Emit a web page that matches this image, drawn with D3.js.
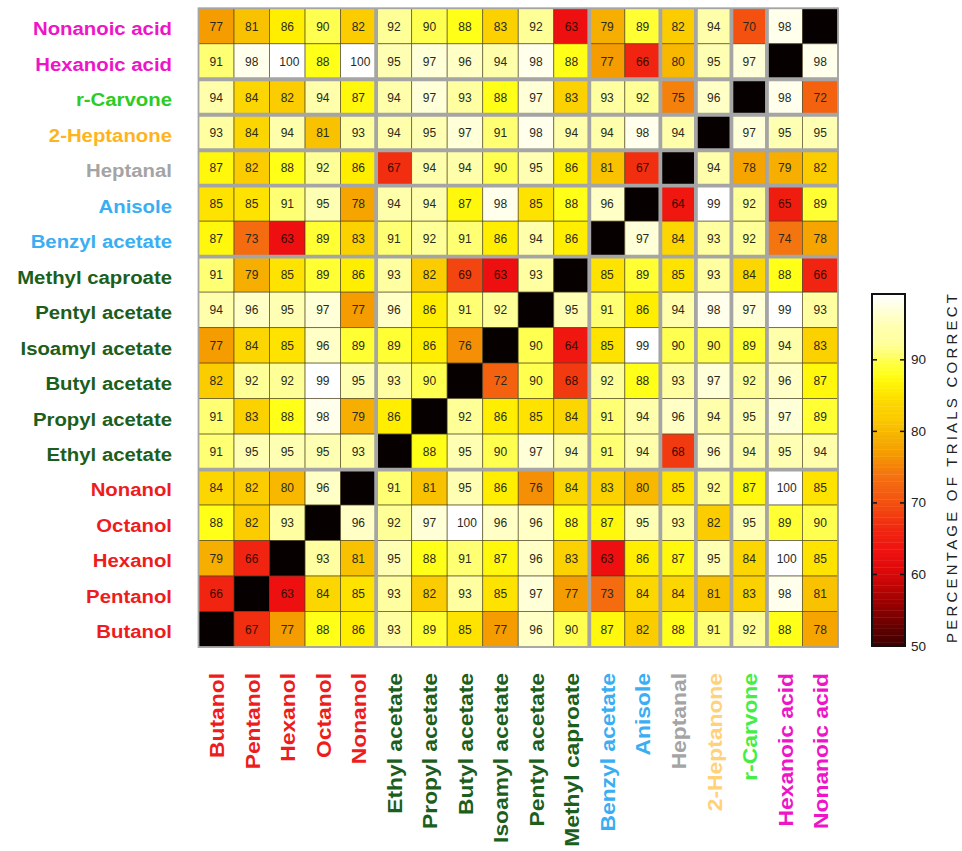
<!DOCTYPE html>
<html>
<head>
<meta charset="utf-8">
<script src="https://cdn.jsdelivr.net/npm/d3@7"></script>
<style>
  html, body { margin: 0; padding: 0; background: #fff; }
  svg { display: block; }
</style>
</head>
<body>
<svg id="chart" width="962" height="851"></svg>
<script>
// ---------------- DATA ----------------
const colLabels = ["Butanol","Pentanol","Hexanol","Octanol","Nonanol",
  "Ethyl acetate","Propyl acetate","Butyl acetate","Isoamyl acetate","Pentyl acetate","Methyl caproate",
  "Benzyl acetate","Anisole","Heptanal","2-Heptanone","r-Carvone","Hexanoic acid","Nonanoic acid"];

const rowLabels = ["Nonanoic acid","Hexanoic acid","r-Carvone","2-Heptanone","Heptanal","Anisole",
  "Benzyl acetate","Methyl caproate","Pentyl acetate","Isoamyl acetate","Butyl acetate","Propyl acetate",
  "Ethyl acetate","Nonanol","Octanol","Hexanol","Pentanol","Butanol"];

// group of each odorant (used for label colours and separators)
const colGroups = ["alc","alc","alc","alc","alc","ace","ace","ace","ace","ace","ace",
  "aro","aro","ald","ket","car","acid","acid"];
const rowGroups = ["acid","acid","car","ket","ald","aro","aro","ace","ace","ace","ace","ace","ace",
  "alc","alc","alc","alc","alc"];

// values, rows top→bottom, columns left→right (null = diagonal)
const values = [
  [77,81,86,90,82, 92,90,88,83,92,63, 79,89, 82, 94, 70, 98,null],
  [91,98,100,88,100, 95,97,96,94,98,88, 77,66, 80, 95, 97, null,98],
  [94,84,82,94,87, 94,97,93,88,97,83, 93,92, 75, 96, null, 98,72],
  [93,84,94,81,93, 94,95,97,91,98,94, 94,98, 94, null, 97, 95,95],
  [87,82,88,92,86, 67,94,94,90,95,86, 81,67, null, 94, 78, 79,82],
  [85,85,91,95,78, 94,94,87,98,85,88, 96,null, 64, 99, 92, 65,89],
  [87,73,63,89,83, 91,92,91,86,94,86, null,97, 84, 93, 92, 74,78],
  [91,79,85,89,86, 93,82,69,63,93,null, 85,89, 85, 93, 84, 88,66],
  [94,96,95,97,77, 96,86,91,92,null,95, 91,86, 94, 98, 97, 99,93],
  [77,84,85,96,89, 89,86,76,null,90,64, 85,99, 90, 90, 89, 94,83],
  [82,92,92,99,95, 93,90,null,72,90,68, 92,88, 93, 97, 92, 96,87],
  [91,83,88,98,79, 86,null,92,86,85,84, 91,94, 96, 94, 95, 97,89],
  [91,95,95,95,93, null,88,95,90,97,94, 91,94, 68, 96, 94, 95,94],
  [84,82,80,96,null, 91,81,95,86,76,84, 83,80, 85, 92, 87, 100,85],
  [88,82,93,null,96, 92,97,100,96,96,88, 87,95, 93, 82, 95, 89,90],
  [79,66,null,93,81, 95,88,91,87,96,83, 63,86, 87, 95, 84, 100,85],
  [66,null,63,84,85, 93,82,93,85,97,77, 73,84, 84, 81, 83, 98,81],
  [null,67,77,88,86, 93,89,85,77,96,90, 87,82, 88, 91, 92, 88,78]
];

const colorbarTicks = [50, 60, 70, 80, 90];
const colorbarTitle = "PERCENTAGE OF TRIALS CORRECT";

// colour map anchor points (value → colour)
const cmapValues = [50, 56, 60, 63, 66, 70, 74, 77, 79, 82, 84, 86, 88, 90, 92, 95, 97, 99];
const cmapColors = ["#3a0000","#9a0000","#d80808","#ee1010","#f02410","#f45010","#f47410","#f59c00",
  "#f6ae00","#fbcc00","#fcd600","#ffee00","#ffff18","#ffff50","#ffff98","#ffffb4","#ffffd8","#ffffff"];

const rowLabelColors = {alc:"#ee1c1c", ace:"#1c5e1c", aro:"#3aaef2", ald:"#a4a4a4", ket:"#ffb41e", car:"#2ccc22", acid:"#ee14c8"};
const colLabelColors = {alc:"#ee1c1c", ace:"#1c5e1c", aro:"#3aaef2", ald:"#a4a4a4", ket:"#ffd27a", car:"#44ee44", acid:"#ee14c8"};

// ---------------- DRAWING ----------------
const svg = d3.select("#chart");
const font = "'Liberation Sans', Arial, Helvetica, sans-serif";

const x = d3.scaleBand().domain(d3.range(colLabels.length)).range([198.5, 838]).padding(0);
const y = d3.scaleBand().domain(d3.range(rowLabels.length)).range([8.3, 647]).padding(0);

const color = d3.scaleLinear().domain(cmapValues).range(cmapColors).clamp(true)
  .interpolate(d3.interpolateRgb);

const cells = [];
values.forEach((row, r) => row.forEach((v, c) => cells.push({r, c, v})));

const g = svg.append("g");

g.selectAll("rect.cell").data(cells).join("rect")
  .attr("class", "cell")
  .attr("x", d => x(d.c))
  .attr("y", d => y(d.r))
  .attr("width", x.bandwidth())
  .attr("height", y.bandwidth())
  .attr("fill", d => d.v == null ? "#070000" : color(d.v))
  .attr("stroke", "#4a4020")
  .attr("stroke-opacity", 0.75)
  .attr("stroke-width", 0.8);

g.selectAll("text.val").data(cells.filter(d => d.v != null)).join("text")
  .attr("class", "val")
  .attr("x", d => x(d.c) + x.bandwidth() / 2 + (d.v >= 100 ? 2 : 0))
  .attr("y", d => y(d.r) + y.bandwidth() / 2 + 0.5)
  .attr("text-anchor", "middle")
  .attr("dominant-baseline", "central")
  .attr("font-family", font)
  .attr("font-size", 12)
  .attr("fill", d => d.v < 70 ? "#3a0a00" : "#2a2a1a")
  .text(d => d.v);

// group separators (gray thick lines)
const colBounds = d3.range(1, colGroups.length).filter(i => colGroups[i] !== colGroups[i - 1]);
const rowBounds = d3.range(1, rowGroups.length).filter(i => rowGroups[i] !== rowGroups[i - 1]);
const sepColor = "#a5a5a5";

g.selectAll("line.vsep").data(colBounds).join("line")
  .attr("x1", d => x(d)).attr("x2", d => x(d))
  .attr("y1", y.range()[0]).attr("y2", y.range()[1])
  .attr("stroke", sepColor).attr("stroke-width", 3.8);

g.selectAll("line.hsep").data(rowBounds).join("line")
  .attr("y1", d => y(d)).attr("y2", d => y(d))
  .attr("x1", x.range()[0]).attr("x2", x.range()[1])
  .attr("stroke", sepColor).attr("stroke-width", 3.8);

g.append("rect")
  .attr("x", x.range()[0]).attr("y", y.range()[0])
  .attr("width", x.range()[1] - x.range()[0])
  .attr("height", y.range()[1] - y.range()[0])
  .attr("fill", "none").attr("stroke", sepColor).attr("stroke-width", 1.8);

// row labels (the reference lettering is slightly stretched horizontally)
svg.selectAll("text.rowlab").data(rowLabels).join("text")
  .attr("class", "rowlab")
  .attr("transform", (d, i) => `translate(172,${y(i) + y.bandwidth() / 2 + 2.5}) scale(1.1,1)`)
  .attr("text-anchor", "end")
  .attr("dominant-baseline", "central")
  .attr("font-family", font)
  .attr("font-weight", "bold")
  .attr("font-size", 18.5)
  .attr("fill", (d, i) => rowLabelColors[rowGroups[i]])
  .text(d => d);

// column labels
svg.selectAll("text.collab").data(colLabels).join("text")
  .attr("class", "collab")
  .attr("transform", (d, i) => `translate(${x(i) + x.bandwidth() / 2 + 1},673) rotate(-90) scale(1.17,1)`)
  .attr("text-anchor", "end")
  .attr("dominant-baseline", "central")
  .attr("font-family", font)
  .attr("font-weight", "bold")
  .attr("font-size", 19.5)
  .attr("fill", (d, i) => colLabelColors[colGroups[i]])
  .text(d => d);

// colour bar
const cbX = 872, cbW = 33;
const cbScale = d3.scaleLinear().domain([50, 99.2]).range([646, 294]);
const steps = d3.range(50, 99.2, 0.5);
const cb = svg.append("g");
cb.selectAll("rect.cbs").data(steps).join("rect")
  .attr("x", cbX)
  .attr("y", d => cbScale(Math.min(d + 0.5, 99.2)))
  .attr("width", cbW)
  .attr("height", d => cbScale(d) - cbScale(Math.min(d + 0.5, 99.2)) + 0.4)
  .attr("fill", d => color(d + 0.25));
cb.append("rect")
  .attr("x", cbX).attr("y", cbScale.range()[1])
  .attr("width", cbW).attr("height", cbScale.range()[0] - cbScale.range()[1])
  .attr("fill", "none").attr("stroke", "#111").attr("stroke-width", 2);

const innerTicks = colorbarTicks.filter(t => t > 50);
cb.selectAll("line.tl").data(innerTicks).join("line")
  .attr("x1", cbX).attr("x2", cbX + 5)
  .attr("y1", d => cbScale(d)).attr("y2", d => cbScale(d))
  .attr("stroke", "#111").attr("stroke-width", 1.5);
cb.selectAll("line.tr").data(innerTicks).join("line")
  .attr("x1", cbX + cbW - 5).attr("x2", cbX + cbW)
  .attr("y1", d => cbScale(d)).attr("y2", d => cbScale(d))
  .attr("stroke", "#111").attr("stroke-width", 1.5);
cb.selectAll("text.tick").data(colorbarTicks).join("text")
  .attr("x", cbX + cbW + 6)
  .attr("y", d => cbScale(d))
  .attr("dominant-baseline", "central")
  .attr("font-family", font)
  .attr("font-size", 13.5)
  .attr("fill", "#222")
  .text(d => d);

svg.append("text")
  .attr("transform", `translate(951,${(294 + 643) / 2}) rotate(-90)`)
  .attr("text-anchor", "middle")
  .attr("dominant-baseline", "central")
  .attr("font-family", font)
  .attr("font-size", 15)
  .attr("fill", "#222")
  .attr("textLength", 349)
  .attr("lengthAdjust", "spacing")
  .text(colorbarTitle);
</script>
</body>
</html>
